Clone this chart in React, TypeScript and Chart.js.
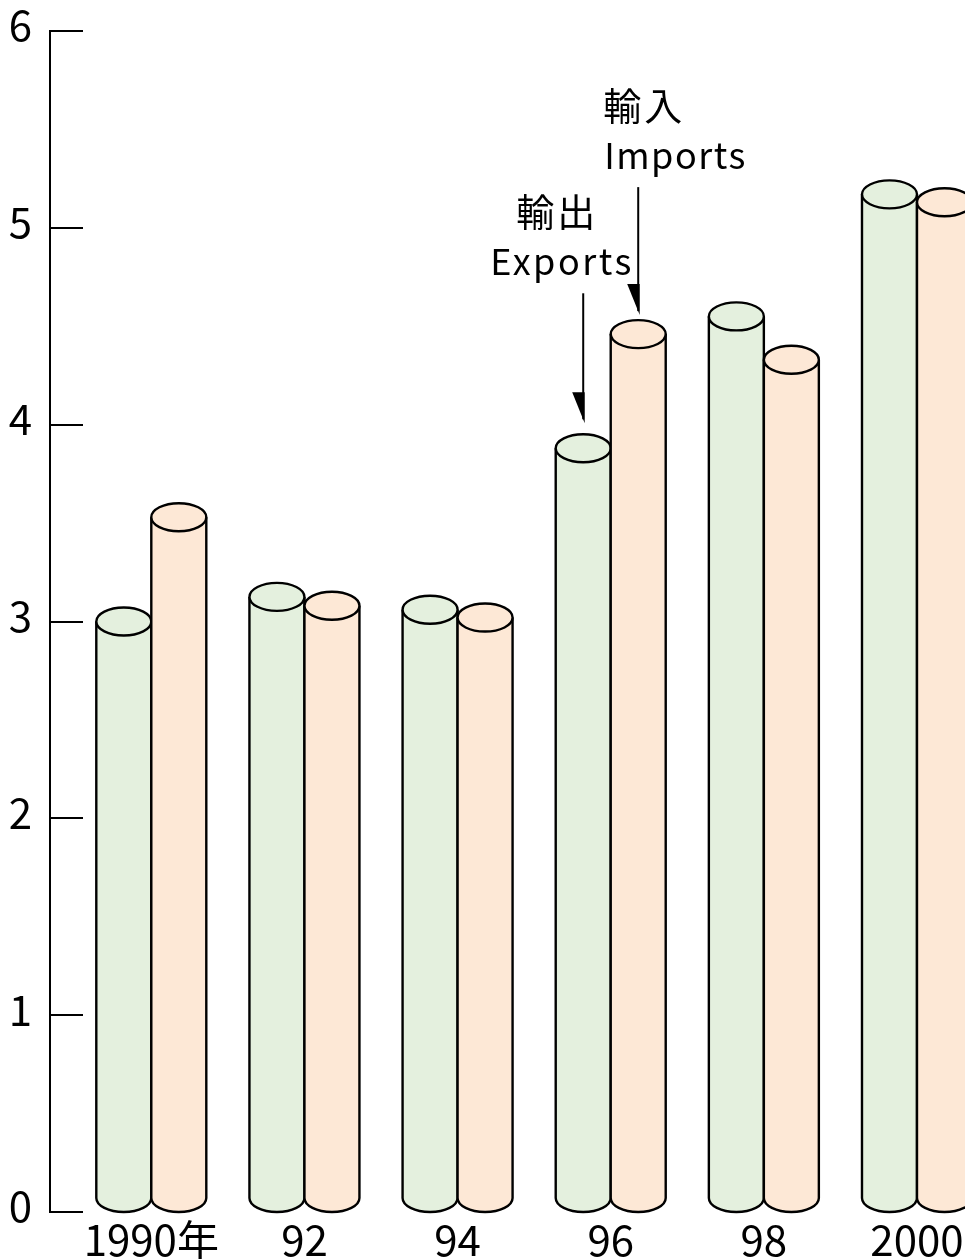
import React, { useEffect, useRef } from "react";
import { Chart, registerables } from "chart.js";

Chart.register(...registerables);

// ---- data ----
const years = [1990, 1992, 1994, 1996, 1998, 2000];
const xLabels = ["1990年", "92", "94", "96", "98", "2000"];
const exportsValues = [3.0, 3.125, 3.06, 3.88, 4.55, 5.17];
const importsValues = [3.53, 3.08, 3.02, 4.46, 4.33, 5.13];
const yTicks = [0, 1, 2, 3, 4, 5, 6];
const exportsLabel = ["輸出", "Exports"];
const importsLabel = ["輸入", "Imports"];
const annotatedIndex = 3; // 1996

const FONT = "'Noto Sans CJK JP', 'Noto Sans', sans-serif";
const GREEN = "rgb(228,240,222)";
const PEACH = "rgb(253,232,214)";

function drawCylinder(ctx: CanvasRenderingContext2D, x: number, top: number, base: number, w: number, fill: string) {
  const rx = w / 2;
  const ry = 14;
  const bc = base - ry;
  ctx.save();
  ctx.lineWidth = 2.4;
  ctx.strokeStyle = "#000";
  ctx.lineJoin = "round";
  ctx.fillStyle = fill;
  ctx.beginPath();
  ctx.moveTo(x - rx, top);
  ctx.lineTo(x - rx, bc);
  ctx.ellipse(x, bc, rx, ry, 0, Math.PI, 0, true);
  ctx.lineTo(x + rx, top);
  ctx.ellipse(x, top, rx, ry, 0, 0, Math.PI, true);
  ctx.closePath();
  ctx.fill();
  ctx.beginPath();
  ctx.moveTo(x - rx, top);
  ctx.lineTo(x - rx, bc);
  ctx.ellipse(x, bc, rx, ry, 0, Math.PI, 0, true);
  ctx.lineTo(x + rx, top);
  ctx.stroke();
  ctx.beginPath();
  ctx.ellipse(x, top, rx, ry, 0, 0, Math.PI * 2);
  ctx.fill();
  ctx.stroke();
  ctx.restore();
}

function drawArrow(ctx: CanvasRenderingContext2D, x: number, fromY: number, tipY: number) {
  ctx.save();
  ctx.strokeStyle = "#000";
  ctx.fillStyle = "#000";
  ctx.lineWidth = 2;
  ctx.beginPath();
  ctx.moveTo(x, fromY);
  ctx.lineTo(x, tipY - 4);
  ctx.stroke();
  ctx.beginPath();
  ctx.moveTo(x + 1.5, tipY);
  ctx.lineTo(x - 11, tipY - 31);
  ctx.lineTo(x + 1.5, tipY - 31);
  ctx.closePath();
  ctx.fill();
  ctx.restore();
}

const cylinderPlugin = {
  id: "cylinders",
  afterDatasetsDraw(chart: any) {
    const ctx = chart.ctx as CanvasRenderingContext2D;
    const fills = [GREEN, PEACH];
    chart.data.datasets.forEach((_: any, di: number) => {
      const meta = chart.getDatasetMeta(di);
      meta.data.forEach((el: any) => {
        const p = el.getProps(["x", "y", "base", "width"], true);
        drawCylinder(ctx, p.x, p.y, p.base, p.width, fills[di]);
      });
    });
  },
  afterDraw(chart: any) {
    const ctx = chart.ctx as CanvasRenderingContext2D;
    const area = chart.chartArea;
    const yScale = chart.scales.y;
    ctx.save();
    ctx.strokeStyle = "#000";
    ctx.lineWidth = 2;
    yTicks.forEach((v) => {
      const py = Math.round(yScale.getPixelForValue(v));
      ctx.beginPath();
      ctx.moveTo(area.left - 1, py);
      ctx.lineTo(area.left + 33, py);
      ctx.stroke();
    });
    ctx.restore();

    const m0 = chart.getDatasetMeta(0);
    const m1 = chart.getDatasetMeta(1);
    ctx.save();
    ctx.fillStyle = "#000";
    ctx.font = `42px ${FONT}`;
    ctx.textAlign = "center";
    ctx.textBaseline = "alphabetic";
    xLabels.forEach((lab, i) => {
      const cx = (m0.data[i].x + m1.data[i].x) / 2;
      ctx.fillText(lab, cx, area.bottom + 43.5);
    });
    ctx.restore();

    const ex = m0.data[annotatedIndex];
    const im = m1.data[annotatedIndex];
    const exTip = ex.y - 25;
    const imTip = im.y - 19;
    drawArrow(ctx, ex.x, exTip - 130, exTip);
    drawArrow(ctx, im.x, imTip - 128, imTip);

    ctx.save();
    ctx.fillStyle = "#000";
    ctx.textAlign = "left";
    (ctx as any).letterSpacing = "3px";
    ctx.font = `38px ${FONT}`;
    ctx.textBaseline = "middle";
    ctx.fillText(exportsLabel[0], ex.x - 67, exTip - 211.5);
    ctx.fillText(importsLabel[0], im.x - 35, imTip - 209.5);
    ctx.font = `36px ${FONT}`;
    ctx.textBaseline = "alphabetic";
    (ctx as any).letterSpacing = "2.5px";
    ctx.fillText(exportsLabel[1], ex.x - 93, exTip - 148);
    (ctx as any).letterSpacing = "1.5px";
    ctx.fillText(importsLabel[1], im.x - 34, imTip - 146);
    ctx.restore();
  },
};

export default function App() {
  const ref = useRef<HTMLCanvasElement | null>(null);
  useEffect(() => {
    if (!ref.current) return;
    const chart = new Chart(ref.current, {
      type: "bar",
      data: {
        datasets: [
          {
            label: exportsLabel[1],
            data: years.map((y, i) => ({ x: y, y: exportsValues[i] })),
            backgroundColor: "rgba(0,0,0,0)",
            borderWidth: 0,
          },
          {
            label: importsLabel[1],
            data: years.map((y, i) => ({ x: y, y: importsValues[i] })),
            backgroundColor: "rgba(0,0,0,0)",
            borderWidth: 0,
          },
        ],
      },
      options: {
        responsive: false,
        animation: false,
        devicePixelRatio: 1,
        barThickness: 55,
        layout: { padding: { top: 31, bottom: 47, left: 0, right: 0 } },
        plugins: { legend: { display: false }, tooltip: { enabled: false } },
        scales: {
          x: {
            type: "linear",
            display: false,
            min: 1988.677,
            max: 2000.627,
            offset: false,
          },
          y: {
            min: 0,
            max: 6,
            afterFit: (s: any) => {
              s.width = 50;
              s.paddingTop = 0;
              s.paddingBottom = 0;
            },
            afterBuildTicks: (s: any) => {
              s.ticks = yTicks.map((v) => ({ value: v }));
            },
            ticks: {
              color: "#000",
              font: { family: FONT, size: 42 },
              padding: 18,
              labelOffset: -5.5,
            },
            grid: { display: false, drawTicks: false },
            border: { display: true, color: "#000", width: 2 },
          },
        },
      } as any,
      plugins: [cylinderPlugin],
    });
    return () => chart.destroy();
  }, []);
  return (
    <div
      style={{
        position: "absolute",
        left: 0,
        top: 0,
        width: 965,
        height: 1259,
        overflow: "hidden",
        background: "#fff",
      }}
    >
      <canvas ref={ref} width={965} height={1259} style={{ display: "block" }} />
    </div>
  );
}
